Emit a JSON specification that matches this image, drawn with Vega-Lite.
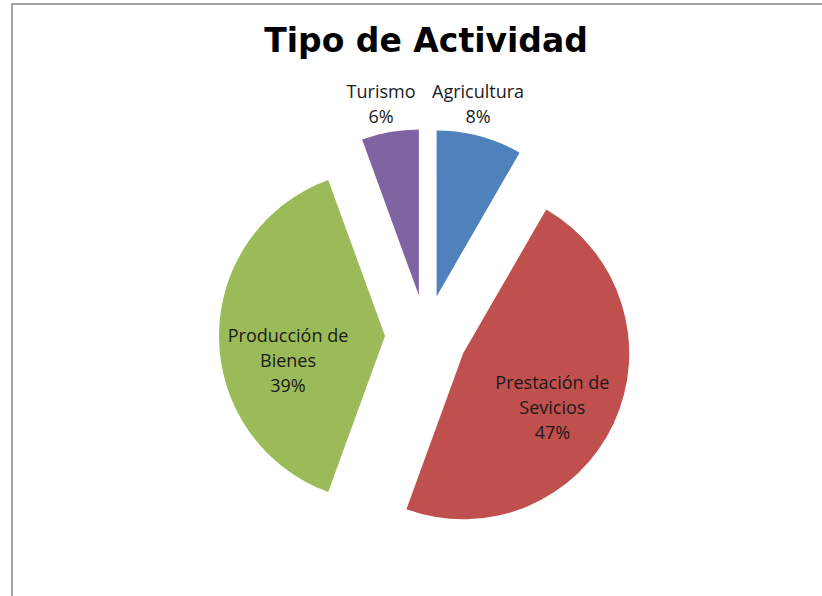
{
  "$schema": "https://vega.github.io/schema/vega-lite/v6.json",
  "width": 828,
  "height": 664,
  "autosize": {"type": "none"},
  "padding": {"left": 12, "top": 4, "right": 0, "bottom": 0},
  "background": "white",
  "view": {"stroke": "#888888", "strokeWidth": 1.5, "fill": "white"},
  "title": {
    "text": "Tipo de Actividad",
    "font": "DejaVu Sans",
    "fontWeight": "bold",
    "fontSize": 33,
    "color": "black",
    "anchor": "middle",
    "frame": "group",
    "orient": "top",
    "baseline": "alphabetic",
    "offset": 0,
    "dy": 81
  },
  "data": {
    "values": [
      {"actividad": "Agricultura", "label": "Agricultura", "n": 3, "pct": 8, "orden": 1},
      {"actividad": "Prestación de Sevicios", "label": "Prestación de\nSevicios", "n": 17, "pct": 47, "orden": 2},
      {"actividad": "Producción de Bienes", "label": "Producción de\nBienes", "n": 14, "pct": 39, "orden": 3},
      {"actividad": "Turismo", "label": "Turismo", "n": 2, "pct": 6, "orden": 4}
    ]
  },
  "transform": [
    {"stack": "n", "groupby": [], "sort": [{"field": "orden", "order": "ascending"}], "as": ["v0", "v1"]},
    {"calculate": "(datum.v0 + datum.v1) / 2", "as": "vmid"},
    {"calculate": "datum.label + '\\n' + datum.pct + '%'", "as": "texto"}
  ],
  "encoding": {
    "color": {
      "field": "actividad",
      "type": "nominal",
      "scale": {
        "domain": ["Agricultura", "Prestación de Sevicios", "Producción de Bienes", "Turismo"],
        "range": ["#4F81BD", "#C0504D", "#9BBB59", "#8064A2"]
      },
      "legend": null
    }
  },
  "layer": [
    {
      "transform": [{"filter": "datum.orden == 1"}],
      "layer": [
        {
          "mark": {"type": "arc", "radius": 166, "xOffset": 10.6, "yOffset": -39.6, "stroke": null},
          "encoding": {
            "theta": {"field": "v0", "type": "quantitative", "scale": {"domain": [0, 36]}},
            "theta2": {"field": "v1"}
          }
        },
        {
          "mark": {"type": "text", "radius": 195, "xOffset": 10.6, "yOffset": -39.6, "dx": -9, "dy": -15, "font": "Open Sans", "fontSize": 18, "lineHeight": 25, "lineBreak": "\n", "align": "center", "baseline": "middle"},
          "encoding": {
            "theta": {"field": "vmid", "type": "quantitative", "scale": {"domain": [0, 36]}},
            "text": {"field": "texto"},
            "color": {"value": "#1a1a1a"}
          }
        }
      ]
    },
    {
      "transform": [{"filter": "datum.orden == 2"}],
      "layer": [
        {
          "mark": {"type": "arc", "radius": 166, "xOffset": 37.2, "yOffset": 17.3, "stroke": null},
          "encoding": {
            "theta": {"field": "v0", "type": "quantitative", "scale": {"domain": [0, 36]}},
            "theta2": {"field": "v1"}
          }
        },
        {
          "mark": {"type": "text", "radius": 105, "xOffset": 37.2, "yOffset": 17.3, "dx": -6, "dy": -14, "font": "Open Sans", "fontSize": 18, "lineHeight": 25, "lineBreak": "\n", "align": "center", "baseline": "middle"},
          "encoding": {
            "theta": {"field": "vmid", "type": "quantitative", "scale": {"domain": [0, 36]}},
            "text": {"field": "texto"},
            "color": {"value": "#1a1a1a"}
          }
        }
      ]
    },
    {
      "transform": [{"filter": "datum.orden == 3"}],
      "layer": [
        {
          "mark": {"type": "arc", "radius": 166, "xOffset": -41, "yOffset": 0, "stroke": null},
          "encoding": {
            "theta": {"field": "v0", "type": "quantitative", "scale": {"domain": [0, 36]}},
            "theta2": {"field": "v1"}
          }
        },
        {
          "mark": {"type": "text", "radius": 100, "xOffset": -41, "yOffset": 0, "dx": 3, "dy": 1, "font": "Open Sans", "fontSize": 18, "lineHeight": 25, "lineBreak": "\n", "align": "center", "baseline": "middle"},
          "encoding": {
            "theta": {"field": "vmid", "type": "quantitative", "scale": {"domain": [0, 36]}},
            "text": {"field": "texto"},
            "color": {"value": "#1a1a1a"}
          }
        }
      ]
    },
    {
      "transform": [{"filter": "datum.orden == 4"}],
      "layer": [
        {
          "mark": {"type": "arc", "radius": 166, "xOffset": -7.1, "yOffset": -40.4, "stroke": null},
          "encoding": {
            "theta": {"field": "v0", "type": "quantitative", "scale": {"domain": [0, 36]}},
            "theta2": {"field": "v1"}
          }
        },
        {
          "mark": {"type": "text", "radius": 195, "xOffset": -7.1, "yOffset": -40.4, "dx": -4, "dy": -11, "font": "Open Sans", "fontSize": 18, "lineHeight": 25, "lineBreak": "\n", "align": "center", "baseline": "middle"},
          "encoding": {
            "theta": {"field": "vmid", "type": "quantitative", "scale": {"domain": [0, 36]}},
            "text": {"field": "texto"},
            "color": {"value": "#1a1a1a"}
          }
        }
      ]
    }
  ]
}
